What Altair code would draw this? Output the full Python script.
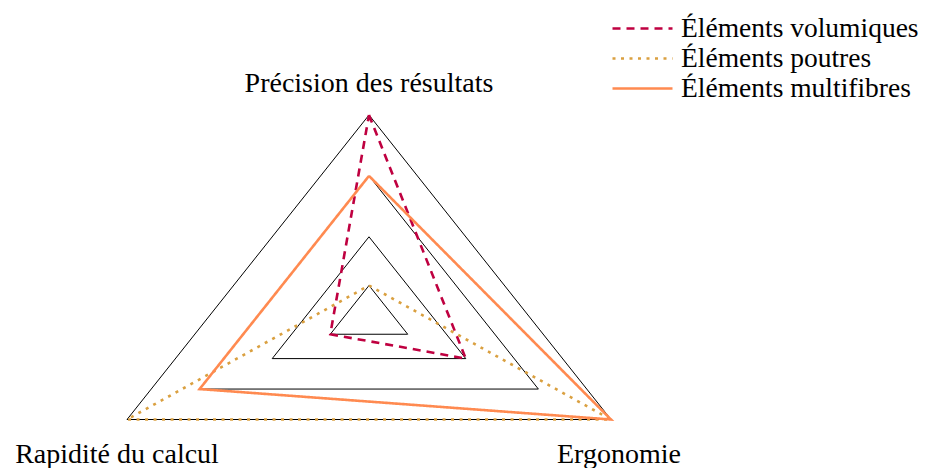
import altair as alt
import numpy as np
import pandas as pd

# ---- data -------------------------------------------------------------
AXES = ["Précision des résultats", "Ergonomie", "Rapidité du calcul"]
AXIS_ANGLE_DEG = [90, -30, 210]
GRID_LEVELS = [0.16, 0.40, 0.70, 1.00]
SERIES = ["Éléments volumiques", "Éléments poutres", "Éléments multifibres"]
VOLUMIQUES = [1.00, 0.40, 0.16]
POUTRES = [0.16, 1.00, 1.00]
MULTIFIBRES = [0.70, 1.00, 0.70]
COLORS = ["#BF0040", "#DAA040", "#FF8A50"]
DASHES = [[8, 6], [3, 5.5], [1, 0]]

# ---- build tables ------------------------------------------------------
ang = np.deg2rad(AXIS_ANGLE_DEG)


def polygon(values, key, name):
    rows = []
    for i in range(len(AXES) + 1):
        j = i % len(AXES)
        r = values[j]
        rows.append({key: name, "order": i, "axis": AXES[j],
                     "x": r * np.cos(ang[j]), "y": r * np.sin(ang[j])})
    return rows


grid_rows = []
for lv in GRID_LEVELS:
    grid_rows += polygon([lv] * len(AXES), "level", lv)
grid = pd.DataFrame(grid_rows)

series_rows = []
for name, vals in zip(SERIES, [VOLUMIQUES, POUTRES, MULTIFIBRES]):
    series_rows += polygon(vals, "serie", name)
series = pd.DataFrame(series_rows)

labels = pd.DataFrame({"axis": AXES,
                       "x": np.cos(ang), "y": np.sin(ang)})

# ---- geometry of the view ----------------------------------------------
W, H = 911, 460
CX, CY = 361, 310          # centre of the radar inside the view (px)
SX, SY = 279.4, 203.0      # px per unit
xdom = [-CX / SX, (W - CX) / SX]
ydom = [(CY - H) / SY, CY / SY]

X = alt.X("x:Q", scale=alt.Scale(domain=xdom, nice=False, zero=False), axis=None)
Y = alt.Y("y:Q", scale=alt.Scale(domain=ydom, nice=False, zero=False), axis=None)

FONT = "Liberation Serif"
FS = 28
LEG_FS = 27.5

grid_layer = alt.Chart(grid).mark_line(color="black", strokeWidth=1, strokeJoin="miter").encode(
    x=X, y=Y, detail="level:N", order="order:Q")

series_layer = alt.Chart(series).mark_line(strokeWidth=2.6, strokeJoin="miter").encode(
    x=X, y=Y, order="order:Q",
    color=alt.Color("serie:N", scale=alt.Scale(domain=SERIES, range=COLORS),
                    sort=SERIES,
                    legend=alt.Legend(title=None, orient="none", legendX=618, legendY=4,
                                      symbolType="M-2,0H2", symbolSize=900,
                                      symbolStrokeWidth=2.6, labelFont=FONT,
                                      labelFontSize=LEG_FS, labelOffset=22, labelLimit=400,
                                      rowPadding=0, padding=0,
                                      labelColor="black")),
    strokeDash=alt.StrokeDash("serie:N", scale=alt.Scale(domain=SERIES, range=DASHES),
                              sort=SERIES, legend=alt.Legend(title=None)),
)

top_lab = alt.Chart(labels).transform_filter(alt.datum.axis == AXES[0]).mark_text(
    font=FONT, fontSize=FS, align="center", baseline="alphabetic", dy=-23, color="black"
).encode(x=X, y=Y, text="axis:N")
right_lab = alt.Chart(labels).transform_filter(alt.datum.axis == AXES[1]).mark_text(
    font=FONT, fontSize=FS, align="center", baseline="alphabetic", dx=8, dy=43, color="black"
).encode(x=X, y=Y, text="axis:N")
left_lab = alt.Chart(labels).transform_filter(alt.datum.axis == AXES[2]).mark_text(
    font=FONT, fontSize=FS, align="center", baseline="alphabetic", dx=-10, dy=43, color="black"
).encode(x=X, y=Y, text="axis:N")

chart = alt.layer(grid_layer, series_layer, top_lab, right_lab, left_lab).properties(
    width=W, height=H, padding=0, autosize=alt.AutoSizeParams(type="none")
).configure_view(stroke=None)

chart.save("out.html", embed_options={"renderer": "svg", "actions": False})
